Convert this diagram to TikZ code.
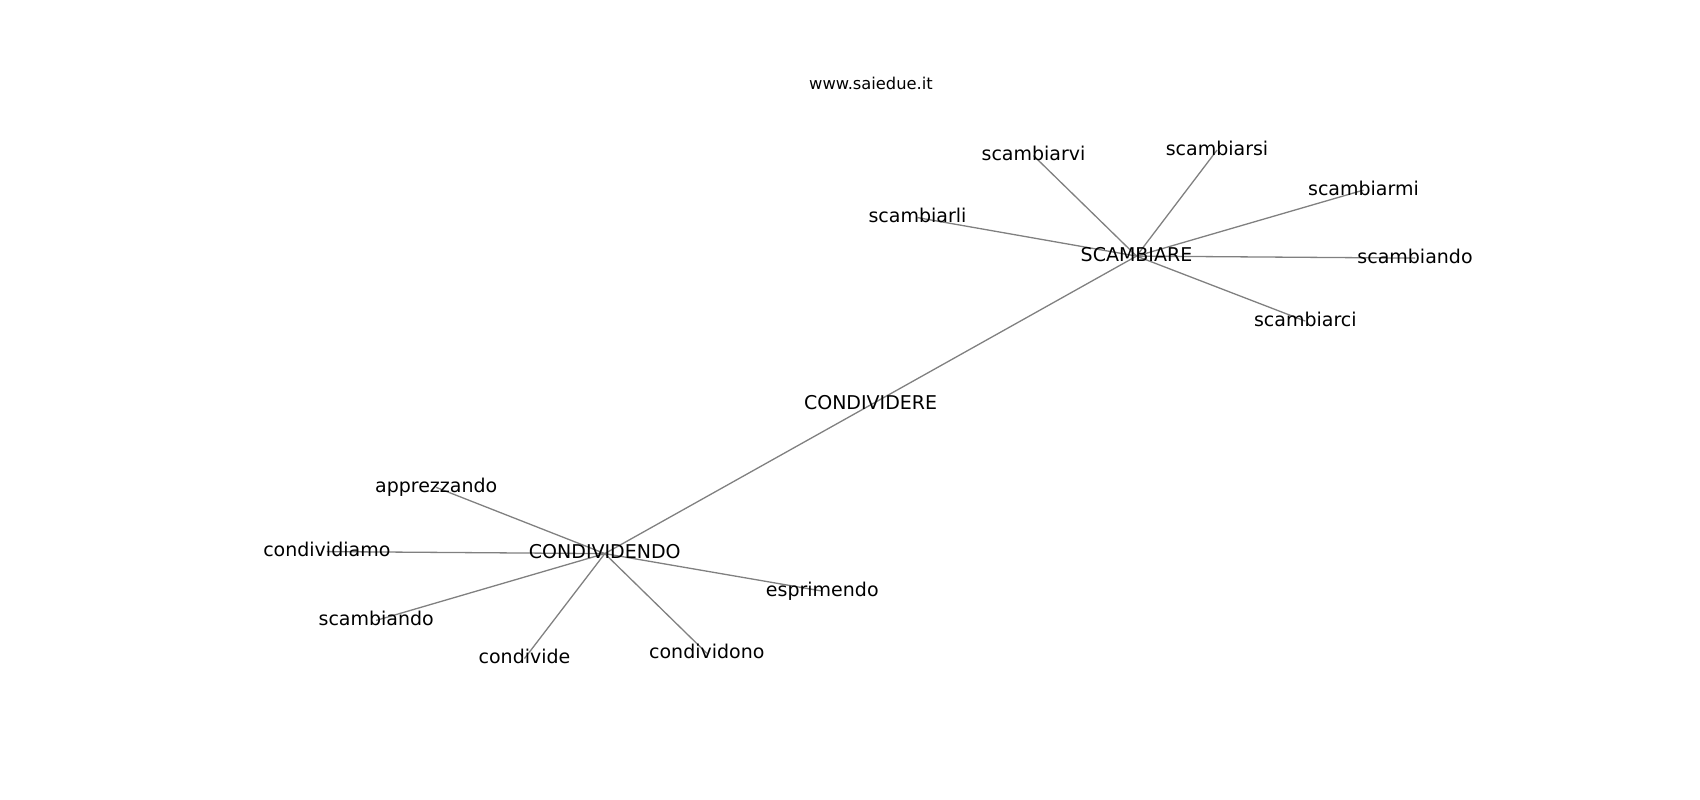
\documentclass[tikz,border=0pt]{standalone}
\usepackage{fontspec}
\setmainfont{DejaVu Sans}
\pgfdeclarelayer{bg}
\pgfsetlayers{bg,main}
\tikzset{
  lab/.style={inner sep=0pt, outer sep=0pt, font=\fontsize{19}{22}\selectfont, text height=14.44pt, text depth=4.56pt, anchor=center},
  ttl/.style={inner sep=0pt, outer sep=0pt, font=\fontsize{16.3}{19}\selectfont, anchor=base},
  edge/.style={draw=black!50, line width=1.3pt}
}
\begin{document}
\begin{tikzpicture}[x=1pt,y=-1pt]
\useasboundingbox (0,0) rectangle (1700,800);
\node[ttl] (title) at (871,89) {www.saiedue.it};
% baseline minus 4.9 gives node centre
\node[lab] (svi) at (1033.5,155.6) {scambiarvi};
\node[lab] (ssi) at (1217,150.1) {scambiarsi};
\node[lab] (smi) at (1363.5,190.1) {scambiarmi};
\node[lab] (sli) at (917.5,217.6) {scambiarli};
\node[lab] (SC) at (1136.5,256.1) {SCAMBIARE};
\node[lab] (sdR) at (1415,258.1) {scambiando};
\node[lab] (sci) at (1305.3,321.1) {scambiarci};
\node[lab] (CR) at (870.6,404.9) {CONDIVIDERE};
\node[lab] (app) at (436.2,487.4) {apprezzando};
\node[lab] (cdm) at (326.8,551.6) {condividiamo};
\node[lab] (CD) at (604.8,553.6) {CONDIVIDENDO};
\node[lab] (esp) at (822.3,591.1) {esprimendo};
\node[lab] (sdL) at (376.2,620.4) {scambiando};
\node[lab] (cde) at (524.5,658.5) {condivide};
\node[lab] (cdn) at (706.8,653.3) {condividono};
\begin{pgfonlayer}{bg}
\foreach \a in {svi,ssi,smi,sli,sdR,sci,CR}
  \draw[edge] (SC.center) -- (\a.center);
\foreach \a in {app,cdm,esp,sdL,cde,cdn,CR}
  \draw[edge] (CD.center) -- (\a.center);
\end{pgfonlayer}
\end{tikzpicture}
\end{document}
